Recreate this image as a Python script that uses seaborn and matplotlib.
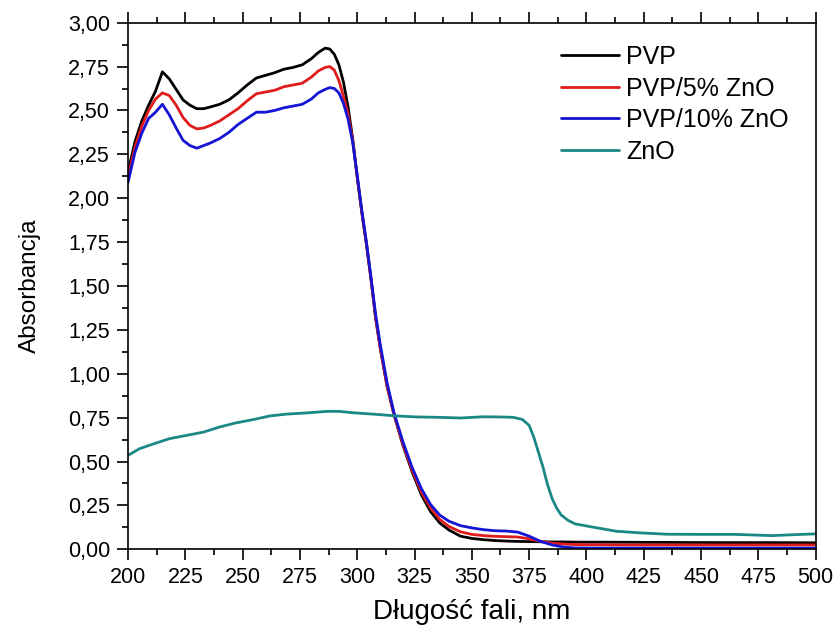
import numpy as np
import pandas as pd
import matplotlib
matplotlib.use('Agg')
import matplotlib.pyplot as plt
from matplotlib.ticker import MultipleLocator, FuncFormatter
import seaborn as sns

# wavelength grid for the PVP based samples (nm)
wl = [200, 203, 206, 209, 212, 215, 218, 221, 224, 227, 230, 233, 236, 240,
      244, 248, 252, 256, 260, 264, 268, 272, 276, 280, 283, 286, 288, 290,
      292, 294, 296, 298, 300, 302, 304, 306, 308, 310, 313, 316, 320, 324,
      328, 332, 336, 340, 345, 350, 355, 360, 365, 370, 375, 380, 385, 390,
      395, 400, 420, 440, 460, 480, 500]

pvp = [2.15, 2.32, 2.44, 2.53, 2.61, 2.72, 2.68, 2.62, 2.56, 2.53, 2.51, 2.51,
       2.52, 2.535, 2.56, 2.60, 2.645, 2.685, 2.70, 2.715, 2.735, 2.745, 2.76,
       2.795, 2.83, 2.855, 2.85, 2.82, 2.76, 2.66, 2.52, 2.34, 2.12, 1.92,
       1.74, 1.54, 1.32, 1.15, 0.93, 0.77, 0.59, 0.44, 0.31, 0.215, 0.15,
       0.11, 0.075, 0.062, 0.055, 0.05, 0.047, 0.045, 0.044, 0.043, 0.042,
       0.042, 0.041, 0.041, 0.040, 0.039, 0.038, 0.038, 0.037]

pvp_zno5 = [2.12, 2.29, 2.41, 2.50, 2.565, 2.60, 2.585, 2.53, 2.46, 2.415,
            2.395, 2.40, 2.415, 2.44, 2.475, 2.51, 2.555, 2.595, 2.605, 2.615,
            2.635, 2.645, 2.655, 2.69, 2.725, 2.745, 2.75, 2.73, 2.67, 2.58,
            2.48, 2.33, 2.12, 1.92, 1.74, 1.54, 1.32, 1.15, 0.93, 0.77, 0.595,
            0.45, 0.325, 0.235, 0.17, 0.13, 0.10, 0.085, 0.078, 0.074, 0.072,
            0.07, 0.06, 0.045, 0.035, 0.03, 0.027, 0.026, 0.025, 0.025, 0.025,
            0.025, 0.025]

pvp_zno10 = [2.09, 2.26, 2.37, 2.455, 2.49, 2.535, 2.475, 2.40, 2.33, 2.30,
             2.285, 2.30, 2.315, 2.34, 2.375, 2.42, 2.455, 2.49, 2.49, 2.50,
             2.515, 2.525, 2.535, 2.565, 2.60, 2.62, 2.63, 2.625, 2.60, 2.54,
             2.45, 2.32, 2.13, 1.93, 1.75, 1.55, 1.34, 1.17, 0.95, 0.78, 0.61,
             0.465, 0.345, 0.255, 0.195, 0.16, 0.135, 0.122, 0.112, 0.106,
             0.104, 0.098, 0.075, 0.045, 0.025, 0.013, 0.008, 0.007, 0.007,
             0.007, 0.007, 0.007, 0.007]

# pure ZnO measured on its own grid
zno_wl = [200, 205, 211, 218, 226, 233, 240, 247, 255, 262, 269, 278, 287,
          292, 298, 307, 317, 326, 335, 345, 355, 362, 368, 372, 375, 377,
          379, 381, 383, 385, 387, 389, 392, 395, 403, 413, 423, 435, 450,
          465, 481, 490, 500]
zno = [0.535, 0.573, 0.60, 0.63, 0.65, 0.668, 0.697, 0.72, 0.74, 0.76, 0.77,
       0.777, 0.786, 0.786, 0.778, 0.77, 0.76, 0.754, 0.752, 0.748, 0.755,
       0.754, 0.752, 0.74, 0.706, 0.64, 0.555, 0.47, 0.37, 0.29, 0.235,
       0.195, 0.165, 0.145, 0.126, 0.103, 0.094, 0.086, 0.085, 0.085, 0.078,
       0.083, 0.088]

labels = ['PVP', 'PVP/5% ZnO', 'PVP/10% ZnO', 'ZnO']
colors = ['#000000', '#e01b1b', '#1414d4', '#1b8886']

frames = []
for name, x, y in zip(labels, [wl, wl, wl, zno_wl],
                      [pvp, pvp_zno5, pvp_zno10, zno]):
    frames.append(pd.DataFrame({'wl': x, 'A': y, 'sample': name}))
df = pd.concat(frames, ignore_index=True)

sns.set_style('ticks')
plt.rcParams['font.family'] = ['Liberation Sans', 'DejaVu Sans']
plt.rcParams['text.color'] = 'black'
plt.rcParams['axes.labelcolor'] = 'black'
plt.rcParams['xtick.color'] = 'black'
plt.rcParams['ytick.color'] = 'black'

fig = plt.figure(figsize=(8.34, 6.28), dpi=100)
ax = fig.add_axes([0.1535, 0.1253, 0.8245, 0.8386])

sns.lineplot(data=df, x='wl', y='A', hue='sample', hue_order=labels,
             palette=colors, linewidth=2.0, ax=ax, sort=False,
             estimator=None)

ax.set_xlim(200, 500)
ax.set_ylim(0, 3)
ax.xaxis.set_major_locator(MultipleLocator(25))
ax.xaxis.set_minor_locator(MultipleLocator(12.5))
ax.yaxis.set_major_locator(MultipleLocator(0.25))
ax.yaxis.set_minor_locator(MultipleLocator(0.125))
ax.yaxis.set_major_formatter(FuncFormatter(lambda v, p: f'{v:.2f}'.replace('.', ',')))
ax.xaxis.set_major_formatter(FuncFormatter(lambda v, p: f'{v:.0f}'))

ax.tick_params(which='both', direction='out', top=True, right=False,
               width=1.2, color='black', labelcolor='black', labelsize=15.5)
ax.tick_params(which='major', length=8, pad=5)
ax.tick_params(which='minor', length=4)
for s in ax.spines.values():
    s.set_linewidth(1.2)
    s.set_color('black')

ax.set_xlabel('Długość fali, nm', fontsize=20, labelpad=8)
ax.set_ylabel('Absorbancja', fontsize=17.5, labelpad=19)

leg = ax.legend(loc='upper left', bbox_to_anchor=(0.6727, 0.928),
                bbox_transform=fig.transFigure, frameon=False, fontsize=18,
                handlelength=2.3, handletextpad=0.3, labelspacing=0.3,
                borderaxespad=0, borderpad=0)
for line in leg.get_lines():
    line.set_linewidth(2)

fig.savefig('out.png', dpi=100)
